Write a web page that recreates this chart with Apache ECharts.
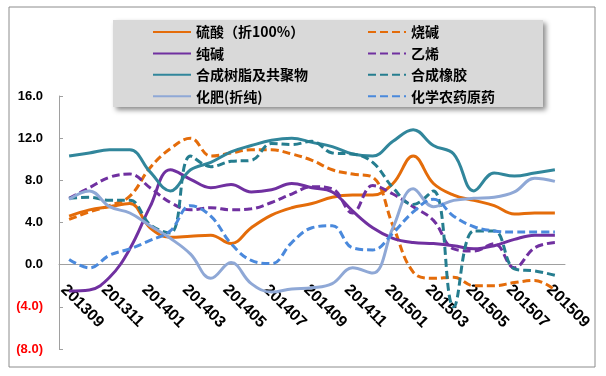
<!DOCTYPE html>
<html>
<head>
<meta charset="utf-8">
<script src="https://cdn.jsdelivr.net/npm/echarts@6/dist/echarts.min.js"></script>
<style>
  html, body { margin: 0; padding: 0; background: #fff; }
  #chart { width: 606px; height: 376px; }
</style>
</head>
<body>
<div id="chart"></div>
<script>
// 月份（类目轴），每隔一个显示标签
const months = [
  '201309', '201310', '201311', '201312', '201401', '201402', '201403', '201404',
  '201405', '201406', '201407', '201408', '201409', '201410', '201411', '201412',
  '201501', '201502', '201503', '201504', '201505', '201506', '201507', '201508', '201509'
]

// 各产品产量同比增速（%）
const sulfuricAcid = [4.6, 5.2, 5.5, 5.8, 3.5, 2.6, 2.7, 2.8, 2.0, 3.5, 4.7, 5.4, 5.8, 6.4, 6.6, 6.6, 7.7, 10.3, 7.7, 6.6, 6.1, 5.6, 4.8, 4.9, 4.9]
const causticSoda = [4.3, 5.0, 5.6, 6.5, 9.2, 11.0, 12.0, 10.3, 10.6, 10.9, 10.9, 10.5, 9.9, 9.0, 8.6, 8.3, 3.7, -0.7, -1.3, -1.2, -2.0, -2.0, -1.7, -1.5, -2.4]
const sodaAsh = [-2.5, -2.4, -1.2, 1.5, 5.5, 9.0, 8.1, 7.3, 7.6, 6.9, 7.1, 7.7, 7.3, 6.9, 5.1, 3.5, 2.5, 2.1, 2.0, 1.8, 1.5, 1.8, 2.4, 2.8, 2.8]
const ethylene = [6.3, 7.3, 8.3, 8.6, 7.3, 5.9, 5.2, 5.4, 5.2, 5.3, 5.9, 6.7, 7.4, 7.2, 4.9, 7.5, 6.7, 5.5, 4.2, 1.5, 1.3, 2.0, -0.3, 1.6, 2.1]
const syntheticResin = [10.3, 10.6, 10.9, 10.9, 8.8, 7.0, 9.0, 9.7, 10.7, 11.3, 11.8, 12.0, 11.6, 11.2, 10.5, 10.3, 11.7, 12.8, 11.3, 10.5, 7.0, 8.7, 8.4, 8.7, 9.0]
const syntheticRubber = [6.3, 6.4, 6.1, 6.1, 3.8, 3.0, 10.3, 9.3, 9.8, 9.9, 11.5, 11.4, 11.7, 10.6, 10.5, 9.7, 7.3, 5.7, 7.0, -4.0, 3.2, 3.2, -0.4, -0.6, -1.0]
const fertilizer = [6.2, 7.0, 5.5, 4.9, 3.7, 2.5, 1.0, -1.3, 0.2, -1.8, -2.6, -2.3, -2.2, -1.8, -0.3, -0.8, 3.5, 7.2, 5.5, 6.1, 6.3, 6.4, 6.9, 8.2, 7.9]
const pesticide = [0.5, -0.3, 0.9, 1.5, 2.3, 3.2, 5.6, 4.6, 2.0, 0.4, 0.1, 2.1, 3.5, 3.7, 1.6, 1.4, 3.0, 5.0, 6.2, 4.6, 3.6, 3.2, 3.1, 3.1, 3.1]

const yTicks = [-8, -4, 0, 4, 8, 12, 16]

const seriesDefs = [
  { name: '硫酸（折100%）', data: sulfuricAcid, color: '#E46C0A', dashed: false },
  { name: '烧碱', data: causticSoda, color: '#E46C0A', dashed: true },
  { name: '纯碱', data: sodaAsh, color: '#7030A0', dashed: false },
  { name: '乙烯', data: ethylene, color: '#7030A0', dashed: true },
  { name: '合成树脂及共聚物', data: syntheticResin, color: '#31869B', dashed: false },
  { name: '合成橡胶', data: syntheticRubber, color: '#257D8F', dashed: true },
  { name: '化肥(折纯)', data: fertilizer, color: '#8FA8D6', dashed: false },
  { name: '化学农药原药', data: pesticide, color: '#4A89DC', dashed: true }
]

const chart = echarts.init(document.getElementById('chart'))

const legendText = {
  color: '#000',
  fontSize: 14,
  fontWeight: 'bold',
  fontFamily: 'Noto Sans CJK SC',
  lineHeight: 14
}

// 绘图区上下边界（像素），横轴要落在 0 刻度处
const gridTop = 96
const gridBottom = 27
const plotHeight = 376 - gridTop - gridBottom
const zeroOffset = -plotHeight * (0 - yTicks[0]) / (yTicks[yTicks.length - 1] - yTicks[0])

chart.setOption({
  backgroundColor: '#fff',
  animation: false,
  graphic: [
    {
      type: 'rect',
      shape: { x: 9, y: 7, width: 586, height: 360 },
      style: { fill: 'none', stroke: '#8C8C8C', lineWidth: 1 },
      z: -10
    },
    {
      type: 'rect',
      shape: { x: 113, y: 20, width: 430, height: 87 },
      style: {
        fill: '#D9D9D9',
        shadowBlur: 5,
        shadowOffsetX: 3,
        shadowOffsetY: 3,
        shadowColor: 'rgba(0, 0, 0, 0.45)'
      },
      z: -5
    }
  ],
  legend: [
    {
      orient: 'vertical',
      left: 147,
      top: 20,
      itemWidth: 38,
      itemHeight: 14,
      itemGap: 7.4,
      itemStyle: { opacity: 0 },
      textStyle: legendText,
      data: seriesDefs.filter((s) => !s.dashed).map((s) => s.name)
    },
    {
      orient: 'vertical',
      left: 362,
      top: 20,
      itemWidth: 38,
      itemHeight: 14,
      itemGap: 7.4,
      itemStyle: { opacity: 0 },
      textStyle: legendText,
      data: seriesDefs.filter((s) => s.dashed).map((s) => s.name)
    }
  ],
  grid: {
    left: 59,
    right: 41,
    top: gridTop,
    bottom: gridBottom,
    containLabel: false,
    outerBoundsMode: 'none'
  },
  xAxis: {
    type: 'category',
    data: months,
    boundaryGap: true,
    offset: zeroOffset,
    axisLine: {
      onZero: false,
      lineStyle: { color: '#A0A0A0', width: 1 }
    },
    axisTick: {
      inside: true,
      length: 4,
      interval: 1,
      lineStyle: { color: '#A0A0A0' }
    },
    axisLabel: {
      interval: 1,
      rotate: -45,
      margin: 17,
      verticalAlign: 'top',
      color: '#000',
      fontSize: 16,
      fontWeight: 'bold',
      fontFamily: 'Liberation Sans'
    },
    splitLine: { show: false }
  },
  yAxis: {
    type: 'value',
    min: yTicks[0],
    max: yTicks[yTicks.length - 1],
    interval: 4,
    axisLine: {
      show: true,
      lineStyle: { color: '#A0A0A0', width: 1 }
    },
    axisTick: {
      show: true,
      inside: true,
      length: 4,
      lineStyle: { color: '#A0A0A0' }
    },
    splitLine: { show: false },
    axisLabel: {
      margin: 16,
      formatter: (v) => (v < 0 ? '{neg|(' + (-v).toFixed(1) + ')}' : '{pos|' + v.toFixed(1) + '}'),
      rich: {
        neg: { color: '#FF0000', fontSize: 13, fontWeight: 'bold', fontFamily: 'Liberation Sans' },
        pos: { color: '#000', fontSize: 13, fontWeight: 'bold', fontFamily: 'Liberation Sans' }
      }
    }
  },
  series: seriesDefs.map((s) => ({
    name: s.name,
    type: 'line',
    data: s.data,
    smooth: 0.4,
    symbol: 'none',
    color: s.color,
    lineStyle: {
      width: 3,
      color: s.color,
      type: s.dashed ? [8, 4] : 'solid'
    }
  }))
})
</script>
</body>
</html>
